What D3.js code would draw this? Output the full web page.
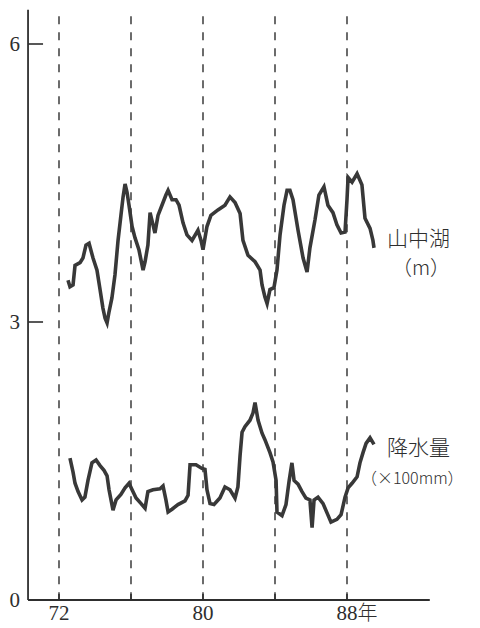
<!DOCTYPE html>
<html>
<head>
<meta charset="utf-8">
<script src="https://cdn.jsdelivr.net/npm/d3@7"></script>
<style>
  html, body { margin: 0; padding: 0; background: #fff; }
  svg { display: block; }
</style>
</head>
<body>
<svg id="chart" width="480" height="628"></svg>
<script>
// 山中湖 water level (m), smoothed, by year
const lakeYears = [72.50,72.61,72.78,72.89,73.17,73.33,73.50,73.67,73.89,74.11,74.28,74.44,74.56,74.67,74.78,74.94,
  75.11,75.28,75.44,75.56,75.67,75.78,75.89,76.06,76.22,76.44,76.67,76.78,76.94,77.06,77.22,77.33,77.50,77.72,77.94,
  78.06,78.28,78.50,78.67,78.89,79.11,79.39,79.72,79.89,80.00,80.22,80.44,80.83,81.22,81.50,81.78,82.06,82.22,82.50,
  82.89,83.17,83.28,83.44,83.56,83.72,83.94,84.11,84.28,84.50,84.67,84.83,85.00,85.28,85.56,85.78,85.94,86.22,86.44,
  86.72,86.94,87.22,87.44,87.67,87.89,88.00,88.06,88.28,88.56,88.83,89.00,89.28,89.44,89.50];
const lakeLevel = [3.45,3.38,3.40,3.61,3.64,3.69,3.83,3.85,3.69,3.56,3.35,3.15,3.04,2.99,3.11,3.26,
  3.51,3.88,4.15,4.35,4.49,4.40,4.26,4.03,3.91,3.78,3.56,3.65,3.83,4.18,4.05,3.96,4.15,4.26,4.37,
  4.42,4.32,4.32,4.26,4.07,3.94,3.88,3.99,3.88,3.78,4.03,4.15,4.21,4.26,4.35,4.29,4.17,3.88,3.72,
  3.65,3.56,3.40,3.27,3.20,3.35,3.37,3.56,3.94,4.26,4.42,4.42,4.32,3.99,3.69,3.54,3.80,4.10,4.37,
  4.46,4.26,4.18,4.05,3.96,3.97,4.32,4.56,4.51,4.60,4.48,4.12,4.01,3.88,3.80];

// 降水量 (×100 mm), smoothed, by year
const rainYears = [72.61,72.78,72.89,73.06,73.28,73.44,73.61,73.83,74.06,74.28,74.50,74.67,74.78,75.00,75.17,75.44,
  75.67,75.89,76.06,76.28,76.56,76.78,76.94,77.22,77.61,77.78,77.94,78.06,78.28,78.61,79.00,79.17,79.28,79.61,79.94,
  80.11,80.22,80.39,80.61,80.94,81.22,81.50,81.78,81.94,82.06,82.17,82.33,82.61,82.78,82.89,83.06,83.28,83.44,83.72,
  83.89,84.06,84.11,84.39,84.61,84.78,84.94,85.06,85.28,85.50,85.72,85.94,86.06,86.17,86.39,86.67,86.89,87.11,87.44,
  87.67,87.89,88.06,88.28,88.56,88.72,88.89,89.06,89.28,89.50];
const rainAmount = [1.53,1.38,1.26,1.17,1.08,1.11,1.29,1.48,1.51,1.45,1.40,1.34,1.19,0.97,1.08,1.14,
  1.21,1.26,1.19,1.10,1.04,0.99,1.17,1.19,1.20,1.23,1.08,0.95,0.98,1.03,1.07,1.13,1.46,1.46,1.42,
  1.41,1.19,1.04,1.03,1.10,1.22,1.19,1.10,1.22,1.56,1.81,1.87,1.94,2.02,2.13,1.94,1.80,1.73,1.59,
  1.49,1.29,0.95,0.91,1.03,1.28,1.48,1.29,1.25,1.17,1.10,1.08,0.78,1.08,1.11,1.04,0.94,0.84,0.87,
  0.92,1.11,1.21,1.26,1.33,1.48,1.59,1.69,1.75,1.68];

// axis ticks
const yTicks = [0, 3, 6];
const xTicks = [72, 76, 80, 84, 88];
const xTickLabels = ["72", "", "80", "", "88年"];

const svg = d3.select("#chart");
const ink = "#2e2e2e";
const serif = "'Liberation Serif', 'DejaVu Serif', serif";
const jp = "'Noto Sans CJK JP', sans-serif";

const x = d3.scaleLinear().domain([72, 88]).range([59, 347]);
const y = d3.scaleLinear().domain([0, 6]).range([600, 44]);

const xLo = 70.28, xHi = 92.6;   // extent of the time axis
const yTop = 6.37;               // top of the vertical axis

// dashed guides at each tick year
svg.append("g").selectAll("line").data(xTicks).join("line")
  .attr("x1", d => x(d)).attr("x2", d => x(d))
  .attr("y1", y(6.3)).attr("y2", y(0))
  .attr("stroke", ink).attr("stroke-width", 1.4)
  .attr("stroke-dasharray", "8,8");

// axes
svg.append("line")
  .attr("x1", x(xLo)).attr("x2", x(xLo))
  .attr("y1", y(yTop)).attr("y2", y(0))
  .attr("stroke", ink).attr("stroke-width", 1.8);
svg.append("line")
  .attr("x1", x(xLo)).attr("x2", x(xHi))
  .attr("y1", y(0)).attr("y2", y(0))
  .attr("stroke", ink).attr("stroke-width", 1.8);

// y ticks and labels
svg.append("g").selectAll("line").data(yTicks.filter(d => d > 0)).join("line")
  .attr("x1", x(xLo)).attr("x2", x(xLo) + 15)
  .attr("y1", d => y(d)).attr("y2", d => y(d))
  .attr("stroke", ink).attr("stroke-width", 1.6);
svg.append("g").selectAll("text").data(yTicks).join("text")
  .attr("font-family", serif).attr("fill", ink)
  .attr("x", 20).attr("y", d => y(d) + 7)
  .attr("text-anchor", "end")
  .attr("font-size", 21)
  .text(d => d);

// x ticks and labels
svg.append("g").selectAll("line").data(xTicks).join("line")
  .attr("x1", d => x(d)).attr("x2", d => x(d))
  .attr("y1", y(0)).attr("y2", y(0) - 6)
  .attr("stroke", ink).attr("stroke-width", 1.6);
const xl = svg.append("g").selectAll("text").data(xTicks.map((d, i) => [d, xTickLabels[i]]).filter(d => d[1])).join("text")
  .attr("x", d => x(d[0])).attr("y", 620)
  .attr("fill", ink)
  .attr("text-anchor", "start");
xl.each(function(d) {
  const t = d3.select(this);
  const digits = d[1].replace("年", "");
  t.append("tspan").attr("font-family", serif).attr("font-size", 21).text(digits);
  if (d[1].includes("年")) t.append("tspan").attr("font-family", jp).attr("font-weight", 300).attr("font-size", 20).text("年");
});
// center the year digits on their tick
xl.attr("transform", function(d) {
  const digitsW = this.firstChild.getComputedTextLength();
  return `translate(${-digitsW / 2},0)`;
});

// series lines
const line = d3.line().x(d => x(d[0])).y(d => y(d[1]));
const lakeData = d3.zip(lakeYears, lakeLevel);
const rainData = d3.zip(rainYears, rainAmount);

svg.append("path").datum(lakeData)
  .attr("d", line).attr("fill", "none")
  .attr("stroke", "#383838").attr("stroke-width", 3.6)
  .attr("stroke-linejoin", "miter");
svg.append("path").datum(rainData)
  .attr("d", line).attr("fill", "none")
  .attr("stroke", "#383838").attr("stroke-width", 3.6)
  .attr("stroke-linejoin", "miter");

// series labels
const lab = (txt, lx, ly, size) => svg.append("text")
  .attr("font-family", jp).attr("font-weight", 300).attr("fill", ink)
  .attr("font-size", size).attr("x", lx).attr("y", ly).text(txt);
lab("山中湖", 387, 246, 21);
lab("（m）", 392, 275, 20);
lab("降水量", 387, 455, 21);
lab("（×100mm）", 361, 484, 16);
</script>
</body>
</html>
